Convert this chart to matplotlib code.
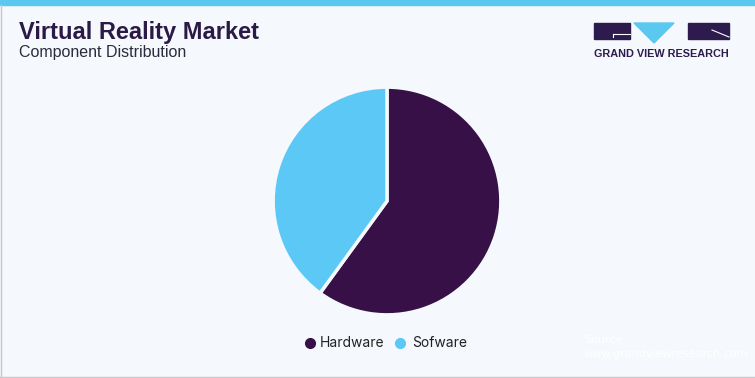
import matplotlib
matplotlib.use("Agg")
import matplotlib.pyplot as plt
from matplotlib.patches import Rectangle, Polygon
from matplotlib.lines import Line2D

# data
labels = ["Hardware", "Sofware"]
shares = [60.0, 40.0]
colors = ["#371047", "#5bc8f5"]

W, H = 755, 378
fig = plt.figure(figsize=(W / 100, H / 100), dpi=100)
fig.patch.set_facecolor("#f5f8fc")


def fx(x):
    return x / W


def fy(y):
    return 1 - y / H


# top accent bar and frame lines
fig.patches.append(Rectangle((0, fy(5)), 1, 5 / H, transform=fig.transFigure,
                             color="#5bc8f0", zorder=0))
fig.add_artist(Line2D([fx(0.5), fx(0.5)], [0, fy(5)], color="#c8c8c8", lw=1))
fig.add_artist(Line2D([0, 1], [fy(377), fy(377)], color="#c8c8c8", lw=1))

# titles
fig.text(fx(19), fy(32), "Virtual Reality Market", fontsize=17, fontweight="heavy",
         color="#2b1a45", va="center", ha="left", family="Liberation Sans")
fig.text(fx(19), fy(53), "Component Distribution", fontsize=11.5,
         color="#2b2b3b", va="center", ha="left", family="Liberation Sans")

# logo
dark = "#2d1b4e"
fig.patches.append(Rectangle((fx(594), fy(39)), 36 / W, 16 / H,
                             transform=fig.transFigure, color=dark))
fig.add_artist(Line2D([fx(613), fx(630)], [fy(34), fy(34)], color="white", lw=0.8))
fig.add_artist(Line2D([fx(613), fx(613)], [fy(34), fy(37)], color="white", lw=0.8))
fig.patches.append(Polygon([(fx(634), fy(23)), (fx(674), fy(23)), (fx(654), fy(43))],
                           closed=True, transform=fig.transFigure, color="#5bc8f0"))
fig.patches.append(Rectangle((fx(688), fy(39)), 41 / W, 16 / H,
                             transform=fig.transFigure, color=dark))
fig.add_artist(Line2D([fx(712), fx(729)], [fy(30), fy(37)], color="white", lw=0.8))
fig.text(fx(661), fy(54), "GRAND VIEW RESEARCH", fontsize=7.8, fontweight="bold",
         color=dark, ha="center", va="center", family="Liberation Sans")

# pie
cx, cy, r = 387, 201, 115
ax = fig.add_axes([fx(cx - r), fy(cy + r), 2 * r / W, 2 * r / H])
ax.pie(shares, colors=colors, startangle=90, counterclock=False,
       wedgeprops=dict(edgecolor="#f5f8fc", linewidth=2.5))
ax.set_xlim(-1.01, 1.01)
ax.set_ylim(-1.01, 1.01)
ax.set_aspect("auto")
ax.axis("off")

# legend
for xm, xt, lab, col in [(310, 320, labels[0], colors[0]), (400, 412, labels[1], colors[1])]:
    fig.add_artist(Line2D([fx(xm)], [fy(343)], marker="o", markersize=7,
                          color=col, linestyle="none"))
    fig.text(fx(xt), fy(343), lab, fontsize=10, color="#222222", va="center",
             ha="left", family="Inter")

# source (white on light background)
fig.text(fx(584), fy(340), "Source:", fontsize=8, color="white", va="center")
fig.text(fx(584), fy(354), "www.grandviewresearch.com", fontsize=8, color="white",
         va="center")

fig.savefig("out.png", dpi=100, facecolor=fig.get_facecolor())
